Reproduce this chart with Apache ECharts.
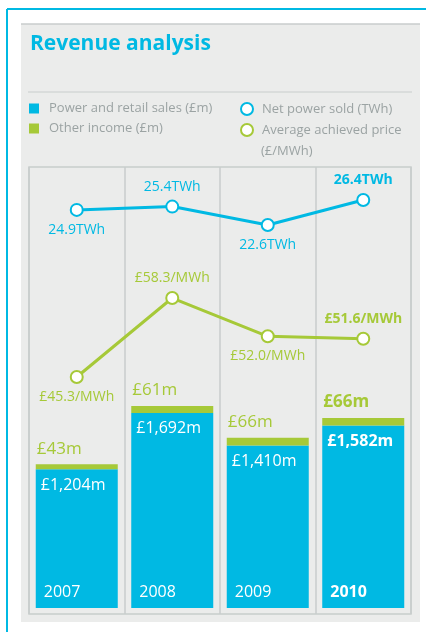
<!DOCTYPE html>
<html>
<head>
<meta charset="utf-8">
<script src="https://cdn.jsdelivr.net/npm/echarts@6/dist/echarts.min.js"></script>
<style>
  html, body { margin: 0; padding: 0; background: #fff; }
  #main { width: 426px; height: 632px; }
</style>
</head>
<body>
<div id="main"></div>
<script>
var years = ['2007', '2008', '2009', '2010']
var powerSales = [1204, 1692, 1410, 1582]   // £m
var otherIncome = [43, 61, 66, 66]          // £m
var netPower = [24.9, 25.4, 22.6, 26.4]     // TWh
var avgPrice = [45.3, 58.3, 52.0, 51.6]     // £/MWh

var cyan = '#00b9e3'
var green = '#a6c938'
var grey = '#9ba3a3'
var lineGrey = '#c8cdcc'
var font = 'Open Sans'

var chart = echarts.init(document.getElementById('main'))

// last year is shown in bold
var bold = function(arr) {
  return arr.map(function(v, i) {
    if (i !== arr.length - 1) return v
    return { value: v, label: { fontWeight: 'bold' } }
  })
}
// line labels alternate below / above the point
var lineData = function(arr) {
  return arr.map(function(v, i) {
    var item = { value: v, label: { position: i % 2 === 0 ? 'bottom' : 'top' } }
    if (i === arr.length - 1) item.label.fontWeight = 'bold'
    return item
  })
}

var hiddenX = function(idx) {
  return { type: 'category', gridIndex: idx, data: years, show: false }
}

var option = {
  animation: false,
  title: {
    text: 'Revenue analysis',
    left: 25, top: 29,
    textStyle: { color: cyan, fontSize: 21, fontWeight: 'bold', fontFamily: font }
  },
  graphic: [
    { type: 'rect', z: -1, shape: { x: 21, y: 24, width: 399, height: 598 }, style: { fill: '#ebeceb' } },
    { type: 'line', z: -1, shape: { x1: 21, y1: 24, x2: 420, y2: 24 }, style: { stroke: lineGrey, lineWidth: 1.5 } },
    { type: 'line', z: -1, shape: { x1: 7, y1: 9, x2: 426, y2: 9 }, style: { stroke: cyan, lineWidth: 2 } },
    { type: 'line', z: -1, shape: { x1: 7, y1: 9, x2: 7, y2: 632 }, style: { stroke: cyan, lineWidth: 2 } },
    { type: 'line', z: -1, shape: { x1: 28, y1: 92, x2: 412, y2: 92 }, style: { stroke: lineGrey, lineWidth: 1 } },
    { type: 'text', left: 261, top: 145, style: { text: '(£/MWh)', fill: grey, fontSize: 13, fontFamily: font } }
  ],
  legend: [
    {
      orient: 'vertical', left: 29, top: 102, padding: 0, itemGap: 7,
      itemWidth: 10, itemHeight: 10, icon: 'rect',
      textStyle: { color: grey, fontSize: 13, fontFamily: font, padding: [0, 0, 0, 5] },
      data: ['Power and retail sales (£m)', 'Other income (£m)']
    },
    {
      orient: 'vertical', left: 240, top: 102, padding: 0, itemGap: 7,
      itemWidth: 12, itemHeight: 12, icon: 'circle',
      textStyle: { color: grey, fontSize: 13, fontFamily: font, padding: [0, 0, 0, 4] },
      formatter: function(name) { return name.replace(' (£/MWh)', '') },
      data: [
        { name: 'Net power sold (TWh)', itemStyle: { color: '#fff', borderColor: cyan, borderWidth: 2 } },
        { name: 'Average achieved price (£/MWh)', itemStyle: { color: '#fff', borderColor: green, borderWidth: 2 } }
      ]
    }
  ],
  grid: [
    // frame with column dividers
    { left: 29, right: 15, top: 167, bottom: 18, show: true, borderColor: lineGrey, borderWidth: 1.5, backgroundColor: 'transparent' },
    // bars
    { left: 29, right: 15, top: 377.4, bottom: 24 },
    // net power sold
    { left: 29, right: 15, top: 189.5, bottom: 389.9 },
    // average price
    { left: 29, right: 15, top: 287.7, bottom: 222.8 }
  ],
  xAxis: [
    {
      type: 'category', gridIndex: 0, data: years,
      axisLine: { show: false }, axisTick: { show: false }, axisLabel: { show: false },
      splitLine: { show: true, lineStyle: { color: lineGrey, width: 1.5 } }
    },
    hiddenX(1), hiddenX(2), hiddenX(3)
  ],
  yAxis: [
    { type: 'value', gridIndex: 0, show: false, splitLine: { show: false } },
    { type: 'value', gridIndex: 1, min: 0, max: 2000, show: false },
    { type: 'value', gridIndex: 2, min: 20, max: 28, show: false },
    { type: 'value', gridIndex: 3, min: 40, max: 60, show: false }
  ],
  series: [
    {
      name: 'Power and retail sales (£m)', type: 'bar', stack: 'rev',
      xAxisIndex: 1, yAxisIndex: 1, barWidth: 82,
      itemStyle: { color: cyan },
      label: {
        show: true, position: [5, 8], color: '#fff', fontSize: 16, fontFamily: font,
        formatter: function(p) { return '£' + p.value.toLocaleString('en-GB') + 'm' }
      },
      data: bold(powerSales)
    },
    {
      name: 'Other income (£m)', type: 'bar', stack: 'rev',
      xAxisIndex: 1, yAxisIndex: 1, barWidth: 82,
      itemStyle: { color: green },
      label: {
        show: true, position: [1, -24], color: green, fontSize: 17, fontFamily: font,
        formatter: function(p) { return '£' + p.value + 'm' }
      },
      data: bold(otherIncome)
    },
    {
      // transparent twin of the blue bars, only carries the year labels
      name: 'year', type: 'bar', xAxisIndex: 1, yAxisIndex: 1,
      barWidth: 82, barGap: '-100%', silent: true,
      itemStyle: { color: 'rgba(0,0,0,0)' },
      label: {
        show: true, position: 'insideBottomLeft', distance: 8,
        color: '#fff', fontSize: 16, fontFamily: font,
        formatter: function(p) { return p.name }
      },
      data: bold(powerSales)
    },
    {
      name: 'Net power sold (TWh)', type: 'line', xAxisIndex: 2, yAxisIndex: 2,
      symbol: 'circle', symbolSize: 12,
      lineStyle: { color: cyan, width: 3 },
      itemStyle: { color: '#fff', borderColor: cyan, borderWidth: 2 },
      label: {
        show: true, distance: 6, color: cyan, fontSize: 14, fontFamily: font,
        formatter: function(p) { return p.value.toFixed(1) + 'TWh' }
      },
      data: lineData(netPower)
    },
    {
      name: 'Average achieved price (£/MWh)', type: 'line', xAxisIndex: 3, yAxisIndex: 3,
      symbol: 'circle', symbolSize: 12,
      lineStyle: { color: green, width: 3 },
      itemStyle: { color: '#fff', borderColor: green, borderWidth: 2 },
      label: {
        show: true, distance: 6, color: green, fontSize: 14, fontFamily: font,
        formatter: function(p) { return '£' + p.value.toFixed(1) + '/MWh' }
      },
      data: lineData(avgPrice)
    }
  ]
}

chart.setOption(option)
</script>
</body>
</html>
